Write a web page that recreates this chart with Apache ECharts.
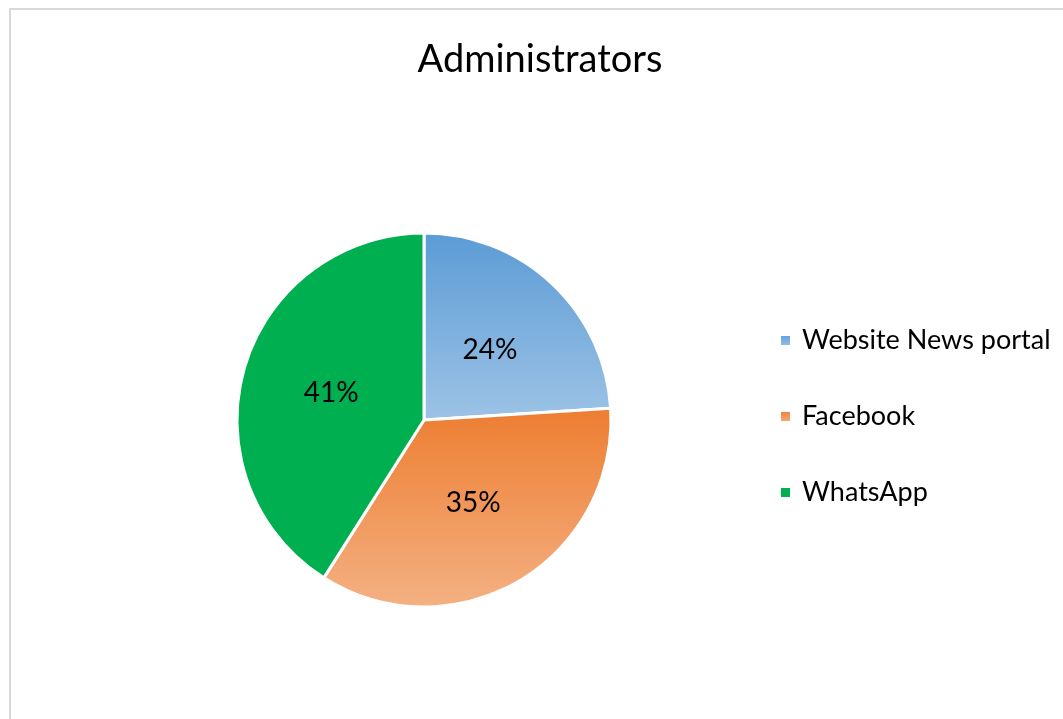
<!DOCTYPE html>
<html>
<head>
<meta charset="utf-8">
<script src="https://cdn.jsdelivr.net/npm/echarts@6/dist/echarts.min.js"></script>
<style>
  html, body { margin: 0; padding: 0; background: #fff; }
  #chart { width: 1063px; height: 719px; }
</style>
</head>
<body>
<div id="chart"></div>
<script>
const categories = ['Website News portal', 'Facebook', 'WhatsApp'];
const shares = [24, 35, 41];

const FONT = 'Lato, "Open Sans", sans-serif';

// per-slice fills: top colour -> bottom colour (same colour = solid)
const fills = [
    ['#5b9bd5', '#9dc3e6'],
    ['#ed7d31', '#f4b183'],
    ['#00b050', '#00b050']
];

const grad = ([a, b]) => new echarts.graphic.LinearGradient(0, 0, 0, 1, [
    { offset: 0, color: a },
    { offset: 1, color: b }
]);

const chart = echarts.init(document.getElementById('chart'));

chart.setOption({
    backgroundColor: '#fff',
    animation: false,
    title: {
        text: 'Administrators',
        left: 535,
        top: 36,
        textAlign: 'center',
        textStyle: { fontFamily: FONT, fontSize: 38, fontWeight: 'normal', color: '#000' }
    },
    legend: {
        orient: 'vertical',
        left: 774,
        top: 322,
        itemWidth: 11,
        itemHeight: 11,
        itemGap: 49,
        icon: 'rect',
        textStyle: { fontFamily: FONT, fontSize: 27, color: '#000', padding: [0, 0, 0, 6] },
        data: categories
    },
    graphic: [{
        type: 'rect',
        shape: { x: 10, y: 9, width: 1200, height: 900 },
        style: { fill: 'none', stroke: '#d9d9d9', lineWidth: 2 },
        silent: true
    }],
    series: [{
        type: 'pie',
        center: [424, 420],
        radius: 187,
        startAngle: 90,
        clockwise: true,
        label: {
            show: true,
            position: 'inside',
            formatter: '{d}%',
            fontFamily: FONT,
            fontSize: 28,
            color: '#000'
        },
        labelLine: { show: false },
        itemStyle: { borderColor: '#fff', borderWidth: 3 },
        data: categories.map((name, i) => ({
            name,
            value: shares[i],
            itemStyle: { color: grad(fills[i]) }
        }))
    }]
});
</script>
</body>
</html>
